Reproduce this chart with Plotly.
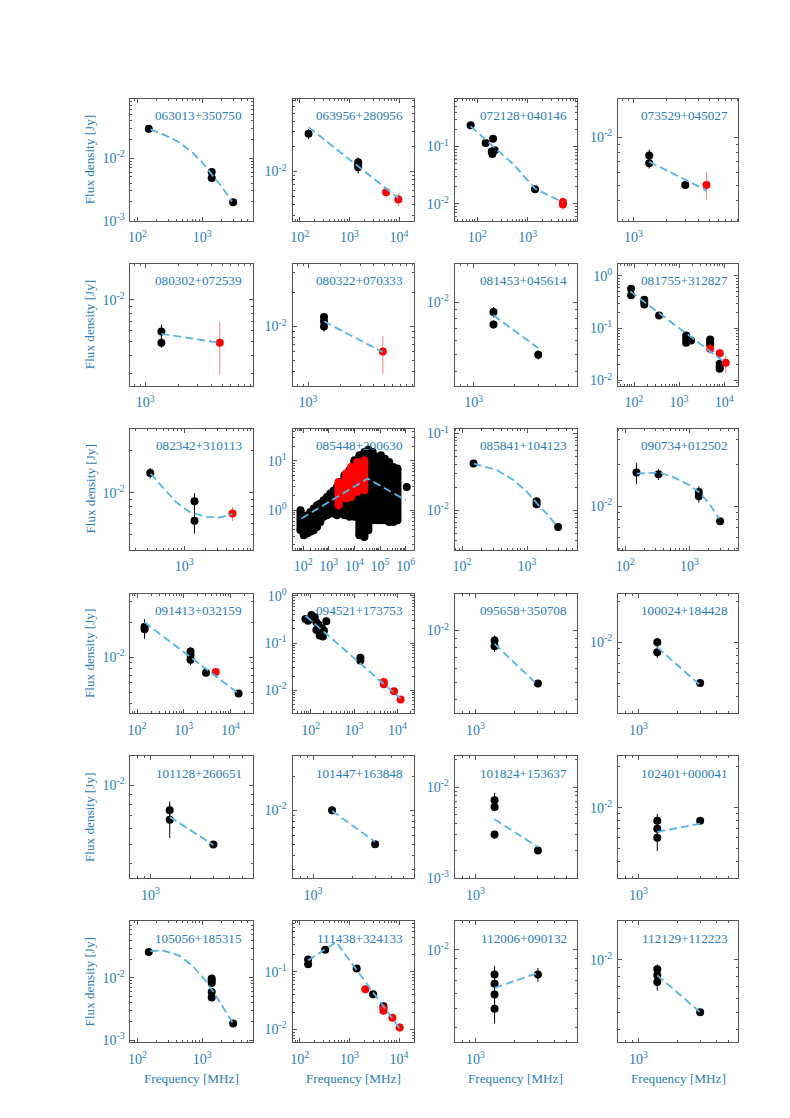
import numpy as np
import plotly.graph_objects as go

# ---------------------------------------------------------------- data
sources = [
    "063013+350750", "063956+280956", "072128+040146", "073529+045027",
    "080302+072539", "080322+070333", "081453+045614", "081755+312827",
    "082342+310113", "085448+200630", "085841+104123", "090734+012502",
    "091413+032159", "094521+173753", "095658+350708", "100024+184428",
    "101128+260651", "101447+163848", "101824+153637", "102401+000041",
    "105056+185315", "111438+324133", "112006+090132", "112129+112223",
]

# log10 axis ranges (MHz, Jy)
x_ranges = [
    [1.892, 3.779], [1.853, 4.30], [1.553, 3.98], [2.858, 3.964],
    [2.864, 3.976], [2.858, 3.97], [2.859, 3.765], [1.641, 4.315],
    [2.227, 3.98], [1.587, 6.32], [1.887, 3.769], [1.887, 3.759],
    [1.857, 4.479], [1.58, 4.382], [2.842, 3.776], [2.842, 3.771],
    [2.848, 3.775], [2.842, 3.776], [2.842, 3.776], [2.842, 3.771],
    [1.892, 3.779], [1.853, 4.30], [2.842, 3.776], [2.842, 3.771],
]
y_ranges = [
    [-3.0, -1.048], [-2.588, -1.128], [-2.294, -0.165], [-2.526, -1.755],
    [-2.612, -1.743], [-2.52, -1.447], [-2.481, -1.779], [-2.096, 0.236],
    [-2.405, -1.54], [-0.797, 1.655], [-2.513, -0.935], [-2.31, -1.445],
    [-2.486, -1.451], [-2.491, 0.049], [-2.481, -1.785], [-2.524, -1.641],
    [-2.475, -1.853], [-2.603, -1.524], [-3.007, -1.663], [-2.52, -1.624],
    [-3.037, -1.091], [-2.225, -0.121], [-2.473, -1.856], [-2.474, -1.781],
]

# per-source measurements: black = archival, red = new
nu_01 = [150, 1400, 1400, 3000]
s_01 = [0.0296, 0.0060, 0.0048, 0.00197]
e_01 = [0.004, 0.0008, 0.0006, 0.0002]
rnu_01, rs_01, re_01 = [], [], []
fnu_01 = [159, 270, 434, 697, 993, 1383, 2022, 2884]
fs_01 = [0.0288, 0.0231, 0.0181, 0.01248, 0.00863, 0.00561, 0.00343, 0.00202]

nu_02 = [150, 1500, 1500, 1500]
s_02 = [0.0283, 0.01294, 0.01213, 0.01127]
e_02 = [0.004, 0.0018, 0.0018, 0.0018]
rnu_02, rs_02, re_02 = [5500, 9700], [0.00565, 0.00461], [0.0008, 0.0008]
fnu_02, fs_02 = [150, 9700], [0.0340, 0.00479]

nu_03 = [74, 147, 206, 194, 222, 200, 1400]
s_03 = [0.235, 0.1146, 0.1365, 0.0816, 0.0861, 0.0743, 0.0179]
e_03 = [0.02, 0.01, 0.01, 0.008, 0.008, 0.007, 0.0015]
rnu_03, rs_03, re_03 = [5000, 5000], [0.0107, 0.0097], [0.002, 0.002]
fnu_03, fs_03 = [74, 541, 1400, 5000], [0.2254, 0.0474, 0.0184, 0.0106]

nu_04 = [1400, 1400, 3000]
s_04 = [0.00768, 0.00686, 0.00501]
e_04 = [0.0007, 0.0005, 0.0003]
rnu_04, rs_04, re_04 = [4700], [0.00501], [0.001]
fnu_04, fs_04 = [1400, 4700], [0.00703, 0.00463]

nu_05 = [1400, 1400]
s_05 = [0.00594, 0.00493]
e_05 = [0.0007, 0.0004]
rnu_05, rs_05, re_05 = [4750], [0.00493], [0.002]
fnu_05, fs_05 = [1400, 4750], [0.00571, 0.00493]

nu_06 = [1400, 1400, 1400]
s_06 = [0.0121, 0.0111, 0.0100]
e_06 = [0.001, 0.001, 0.001]
rnu_06, rs_06, re_06 = [4850], [0.00602], [0.0022]
fnu_06, fs_06 = [1400, 4850], [0.0111, 0.00594]

nu_07 = [1400, 1400, 3000]
s_07 = [0.00875, 0.00743, 0.00497]
e_07 = [0.0006, 0.0004, 0.0003]
rnu_07, rs_07, re_07 = [], [], []
fnu_07, fs_07 = [1400, 3000], [0.00838, 0.00543]

nu_08 = [86, 86, 169, 169, 169, 360, 1435, 1435, 1435, 1850,
         4920, 4920, 4920, 8000, 8000, 8000]
s_08 = [0.571, 0.426, 0.352, 0.318, 0.286, 0.176, 0.0729, 0.063, 0.0527, 0.0585,
        0.061, 0.0543, 0.0483, 0.0209, 0.0185, 0.0168]
e_08 = [0.05, 0.04, 0.03, 0.03, 0.03, 0.015, 0.006, 0.005, 0.005, 0.004,
        0.005, 0.005, 0.004, 0.002, 0.002, 0.002]
rnu_08, rs_08, re_08 = [4920, 8030, 10900], [0.0405, 0.0334, 0.0218], [0.008, 0.007, 0.008]
fnu_08, fs_08 = [82, 10000], [0.508, 0.0228]

nu_09 = [325, 1400, 1400]
s_09 = [0.0139, 0.00872, 0.00631]
e_09 = [0.0012, 0.0012, 0.0012]
rnu_09, rs_09, re_09 = [4900], [0.00712], [0.0008]
fnu_09 = [329, 485, 757, 1181, 2060, 3212, 4910]
fs_09 = [0.01374, 0.01104, 0.00862, 0.00732, 0.00674, 0.00667, 0.00705]

# 085448+200630: heavily monitored source, drawn as flux ranges per frequency
band_nu_10 = [79, 106, 143, 192, 259, 348, 469, 631, 849, 1143, 1538, 2070, 2786,
              4100, 6400, 10000, 15600, 24400, 34800, 51300, 73300, 108000,
              154000, 226000, 333000, 476000]
band_hi_10 = [1.0, 0.732, 0.792, 0.925, 1.08, 1.26, 1.365, 1.6, 1.86, 2.18, 2.47, 2.97,
              3.75, 5.12, 6.46, 10.3, 13.0, 15.2, 17.0, 15.2, 12.0, 13.0, 11.1, 9.53,
              7.56, 6.99]
band_lo_10 = [0.393, 0.311, 0.337, 0.364, 0.393, 0.459, 0.58, 0.733, 0.792, 0.856,
              0.856, 0.792, 0.856, 0.792, 0.733, 0.733, 0.311, 0.288, 0.393, 0.627,
              0.627, 0.627, 0.627, 0.58, 0.58, 0.627]
nu_10, s_10, e_10 = [1100000], [2.97], [0.2]
rband_nu_10 = [2400, 4750, 7430, 12700, 24400]
rband_hi_10 = [3.75, 5.54, 7.56, 9.53, 10.3]
rband_lo_10 = [1.26, 1.72, 1.86, 2.35, 2.54]
rnu_10, rs_10, re_10 = [], [], []
fnu_10, fs_10 = [86, 32800, 1000000], [0.678, 4.38, 1.60]

nu_11 = [150, 1400, 1400, 3000]
s_11 = [0.0406, 0.0131, 0.0120, 0.00606]
e_11 = [0.004, 0.0012, 0.0012, 0.0003]
rnu_11, rs_11, re_11 = [], [], []
fnu_11 = [151, 345, 624, 1000, 1425, 2032, 2897]
fs_11 = [0.0406, 0.0333, 0.0246, 0.0173, 0.0122, 0.00887, 0.00618]

nu_12 = [150, 330, 1400, 1400, 3000]
s_12 = [0.0174, 0.0169, 0.01265, 0.01178, 0.00781]
e_12 = [0.003, 0.0015, 0.0012, 0.0012, 0.0004]
rnu_12, rs_12, re_12 = [], [], []
fnu_12 = [151, 345, 624, 1000, 1393, 2032, 2897]
fs_12 = [0.0171, 0.0174, 0.0158, 0.0141, 0.01265, 0.01045, 0.00816]

nu_13 = [145, 145, 1400, 1400, 1400, 3000, 15000]
s_13 = [0.0183, 0.0174, 0.0112, 0.0105, 0.0095, 0.00734, 0.00486]
e_13 = [0.003, 0.003, 0.001, 0.001, 0.001, 0.0004, 0.0003]
rnu_13, rs_13, re_13 = [4850], [0.00743], [0.0006]
fnu_13, fs_13 = [144, 15000], [0.0200, 0.00486]

nu_14 = [75.5, 87, 104, 124, 135, 152, 135, 161, 191, 182, 229, 202, 1400, 1400]
s_14 = [0.323, 0.298, 0.392, 0.350, 0.275, 0.245, 0.189, 0.144, 0.137, 0.209,
        0.288, 0.183, 0.0487, 0.0428]
e_14 = [0.04, 0.035, 0.045, 0.04, 0.035, 0.03, 0.025, 0.02, 0.02, 0.025,
        0.035, 0.02, 0.004, 0.004]
rnu_14, rs_14, re_14 = [4850, 4850, 8400, 11900], [0.0150, 0.0134, 0.00953, 0.00637], [0.002, 0.002, 0.0012, 0.001]
fnu_14, fs_14 = [75.5, 11900], [0.379, 0.00668]

nu_15 = [1400, 1400, 3000]
s_15 = [0.00875, 0.0081, 0.00493]
e_15 = [0.0006, 0.0006, 0.0002]
rnu_15, rs_15, re_15 = [], [], []
fnu_15, fs_15 = [1400, 3000], [0.00838, 0.00482]

nu_16 = [1400, 1400, 3000]
s_16 = [0.0100, 0.00845, 0.00501]
e_16 = [0.0008, 0.0008, 0.0002]
rnu_16, rs_16, re_16 = [], [], []
fnu_16, fs_16 = [1400, 3000], [0.00919, 0.00482]

nu_17 = [1400, 1400, 3000]
s_17 = [0.00746, 0.00668, 0.00499]
e_17 = [0.0008, 0.0013, 0.0002]
rnu_17, rs_17, re_17 = [], [], []
fnu_17, fs_17 = [1400, 3000], [0.0069, 0.00496]

nu_18 = [1400, 3000]
s_18 = [0.0100, 0.00501]
e_18 = [0.0008, 0.0002]
rnu_18, rs_18, re_18 = [], [], []
fnu_18, fs_18 = [1400, 3000], [0.00987, 0.00526]

nu_19 = [1400, 1400, 1400, 3000]
s_19 = [0.00714, 0.00603, 0.00299, 0.0020]
e_19 = [0.0015, 0.0006, 0.0003, 0.0001]
rnu_19, rs_19, re_19 = [], [], []
fnu_19, fs_19 = [1400, 3000], [0.00441, 0.00219]

nu_20 = [1400, 1400, 1400, 3000]
s_20 = [0.0080, 0.0070, 0.0060, 0.0080]
e_20 = [0.001, 0.0008, 0.0012, 0.0003]
rnu_20, rs_20, re_20 = [], [], []
fnu_20, fs_20 = [1400, 3000], [0.00664, 0.00764]

nu_21 = [150, 1400, 1400, 1400, 1400, 1400, 3000]
s_21 = [0.0261, 0.00976, 0.00918, 0.00832, 0.00596, 0.00483, 0.00185]
e_21 = [0.003, 0.0008, 0.0008, 0.0008, 0.0006, 0.0005, 0.0002]
rnu_21, rs_21, re_21 = [], [], []
fnu_21 = [159, 240, 434, 697, 1119, 1795, 2992]
fs_21 = [0.0271, 0.0278, 0.0231, 0.01596, 0.00918, 0.00438, 0.00185]

nu_22 = [147, 147, 325, 1400, 3000, 4850]
s_22 = [0.164, 0.136, 0.244, 0.1143, 0.0410, 0.0254]
e_22 = [0.014, 0.012, 0.02, 0.009, 0.003, 0.002]
rnu_22, rs_22, re_22 = [2090, 4850, 4850, 7360, 10300], [0.050, 0.0231, 0.0211, 0.0159, 0.0108], [0.006, 0.003, 0.003, 0.002, 0.002]
fnu_22, fs_22 = [147, 541, 10300], [0.159, 0.331, 0.0104]

nu_23 = [1400, 1400, 1400, 1400, 3000]
s_23 = [0.00747, 0.0067, 0.00591, 0.0050, 0.00747]
e_23 = [0.0008, 0.0008, 0.0008, 0.0008, 0.0006]
rnu_23, rs_23, re_23 = [], [], []
fnu_23, fs_23 = [1400, 3000], [0.00638, 0.0076]

nu_24 = [1400, 1400, 1400, 3000]
s_24 = [0.0088, 0.00813, 0.00745, 0.0050]
e_24 = [0.0006, 0.0006, 0.0008, 0.0002]
rnu_24, rs_24, re_24 = [], [], []
fnu_24, fs_24 = [1400, 3000], [0.00813, 0.0050]

panels = [
    (nu_01, s_01, e_01, rnu_01, rs_01, re_01, fnu_01, fs_01),
    (nu_02, s_02, e_02, rnu_02, rs_02, re_02, fnu_02, fs_02),
    (nu_03, s_03, e_03, rnu_03, rs_03, re_03, fnu_03, fs_03),
    (nu_04, s_04, e_04, rnu_04, rs_04, re_04, fnu_04, fs_04),
    (nu_05, s_05, e_05, rnu_05, rs_05, re_05, fnu_05, fs_05),
    (nu_06, s_06, e_06, rnu_06, rs_06, re_06, fnu_06, fs_06),
    (nu_07, s_07, e_07, rnu_07, rs_07, re_07, fnu_07, fs_07),
    (nu_08, s_08, e_08, rnu_08, rs_08, re_08, fnu_08, fs_08),
    (nu_09, s_09, e_09, rnu_09, rs_09, re_09, fnu_09, fs_09),
    (nu_10, s_10, e_10, rnu_10, rs_10, re_10, fnu_10, fs_10),
    (nu_11, s_11, e_11, rnu_11, rs_11, re_11, fnu_11, fs_11),
    (nu_12, s_12, e_12, rnu_12, rs_12, re_12, fnu_12, fs_12),
    (nu_13, s_13, e_13, rnu_13, rs_13, re_13, fnu_13, fs_13),
    (nu_14, s_14, e_14, rnu_14, rs_14, re_14, fnu_14, fs_14),
    (nu_15, s_15, e_15, rnu_15, rs_15, re_15, fnu_15, fs_15),
    (nu_16, s_16, e_16, rnu_16, rs_16, re_16, fnu_16, fs_16),
    (nu_17, s_17, e_17, rnu_17, rs_17, re_17, fnu_17, fs_17),
    (nu_18, s_18, e_18, rnu_18, rs_18, re_18, fnu_18, fs_18),
    (nu_19, s_19, e_19, rnu_19, rs_19, re_19, fnu_19, fs_19),
    (nu_20, s_20, e_20, rnu_20, rs_20, re_20, fnu_20, fs_20),
    (nu_21, s_21, e_21, rnu_21, rs_21, re_21, fnu_21, fs_21),
    (nu_22, s_22, e_22, rnu_22, rs_22, re_22, fnu_22, fs_22),
    (nu_23, s_23, e_23, rnu_23, rs_23, re_23, fnu_23, fs_23),
    (nu_24, s_24, e_24, rnu_24, rs_24, re_24, fnu_24, fs_24),
]

# ---------------------------------------------------------------- style
W, H = 790, 1118
TEXT = "#2a7db5"
FITC = "#56b4e9"
FRAME = "#555555"
FONT = "Liberation Serif"

# the captured page comes out slightly squeezed vertically; map target pixels to page pixels
KY, AY = 0.986, 7.3


def fy(p):
    return (p - AY) / KY


# panel boxes in (target) pixels
col_px = [(128, 251), (291, 413), (454, 577), (618, 739)]
row_px = [(98, 220), (263, 385), (428, 549), (593, 713), (756, 878), (921, 1042)]


def decades(lo, hi):
    return [d for d in range(int(np.floor(lo)), int(np.ceil(hi)) + 1) if lo - 1e-6 <= d <= hi + 1e-6]


def minors(lo, hi):
    out = []
    for d in range(int(np.floor(lo)) - 1, int(np.ceil(hi)) + 1):
        for k in range(2, 10):
            v = k * 10.0 ** d
            if lo <= np.log10(v) <= hi:
                out.append(v)
    return out


def axis_cfg(rng, domain, anchor, standoff):
    dec = decades(*rng)
    return dict(
        type="log", range=rng, domain=domain, anchor=anchor,
        showgrid=False, zeroline=False, showline=True, linecolor=FRAME, linewidth=1,
        mirror="allticks", ticks="inside", ticklen=4, tickwidth=1, tickcolor=FRAME,
        tickmode="array", tickvals=[10.0 ** d for d in dec],
        ticktext=[f"10<sup>{d}</sup>" for d in dec],
        ticklabelstandoff=standoff,
        tickfont=dict(family=FONT, size=14, color=TEXT),
        minor=dict(ticks="inside", ticklen=2, tickwidth=1, tickcolor=FRAME,
                   tickmode="array", tickvals=minors(*rng), showgrid=False),
    )


fig = go.Figure()
layout = {}
annotations = []

for i, name in enumerate(sources):
    r, c = divmod(i, 4)
    n = i + 1
    xa = "x" if n == 1 else f"x{n}"
    ya = "y" if n == 1 else f"y{n}"
    x0, x1 = col_px[c]
    y0, y1 = fy(row_px[r][0]), fy(row_px[r][1])
    xdom = [x0 / W, x1 / W]
    ydom = [1 - y1 / H, 1 - y0 / H]
    layout["xaxis" if n == 1 else f"xaxis{n}"] = axis_cfg(x_ranges[i], xdom, ya, 4)
    layout["yaxis" if n == 1 else f"yaxis{n}"] = axis_cfg(y_ranges[i], ydom, xa, 2)

    nu, s, e, rnu, rs, re_, fnu, fs = panels[i]

    if name == "085448+200630":
        for bnu, blo, bhi, col in [(band_nu_10, band_lo_10, band_hi_10, "black"),
                                   (rband_nu_10, rband_lo_10, rband_hi_10, "red")]:
            bx, by, ex, ey = [], [], [], []
            for f, lo, hi in zip(bnu, blo, bhi):
                bx += [f, f, None]
                by += [lo, hi, None]
                ex += [f, f]
                ey += [lo, hi]
            fig.add_trace(go.Scatter(x=bx, y=by, mode="lines", xaxis=xa, yaxis=ya,
                                     line=dict(color=col, width=8), hoverinfo="skip"))
            fig.add_trace(go.Scatter(x=ex, y=ey, mode="markers", xaxis=xa, yaxis=ya,
                                     marker=dict(color=col, size=8)))

    if nu:
        fig.add_trace(go.Scatter(
            x=nu, y=s, mode="markers", xaxis=xa, yaxis=ya,
            marker=dict(color="black", size=8),
            error_y=dict(type="data", array=e, visible=True, color="black", thickness=1, width=0),
        ))
    if rnu:
        fig.add_trace(go.Scatter(
            x=rnu, y=rs, mode="markers", xaxis=xa, yaxis=ya,
            marker=dict(color="red", size=8),
            error_y=dict(type="data", array=re_, visible=True, color="#f08080", thickness=1, width=0),
        ))
    fig.add_trace(go.Scatter(
        x=fnu, y=fs, mode="lines", xaxis=xa, yaxis=ya,
        line=dict(color=FITC, width=1.8, dash="8px,4px"),
    ))

    annotations.append(dict(
        text=name, xref=f"{xa} domain", yref=f"{ya} domain", x=0.93, y=0.86,
        xanchor="right", yanchor="middle", showarrow=False,
        font=dict(family=FONT, size=13.2, color=TEXT),
    ))
    if c == 0:
        annotations.append(dict(
            text="Flux density [Jy]", xref="paper", yref="paper",
            x=87 / W, y=1 - (y0 + y1) / 2 / H, textangle=-90,
            xanchor="center", yanchor="middle", showarrow=False,
            font=dict(family=FONT, size=13.2, color=TEXT),
        ))
    if r == 5:
        annotations.append(dict(
            text="Frequency [MHz]", xref="paper", yref="paper",
            x=(x0 + x1) / 2 / W, y=1 - fy(1078) / H,
            xanchor="center", yanchor="middle", showarrow=False,
            font=dict(family=FONT, size=13.2, color=TEXT),
        ))

fig.update_layout(
    width=W, height=H, margin=dict(l=0, r=0, t=0, b=0),
    paper_bgcolor="white", plot_bgcolor="white", showlegend=False,
    annotations=annotations, **layout,
)

# page margin would shift the fixed-size figure inside the window
fig.write_html(
    "out.html",
    config={"displayModeBar": False},
    post_script="document.body.style.margin='0';document.body.style.overflow='hidden';",
)
